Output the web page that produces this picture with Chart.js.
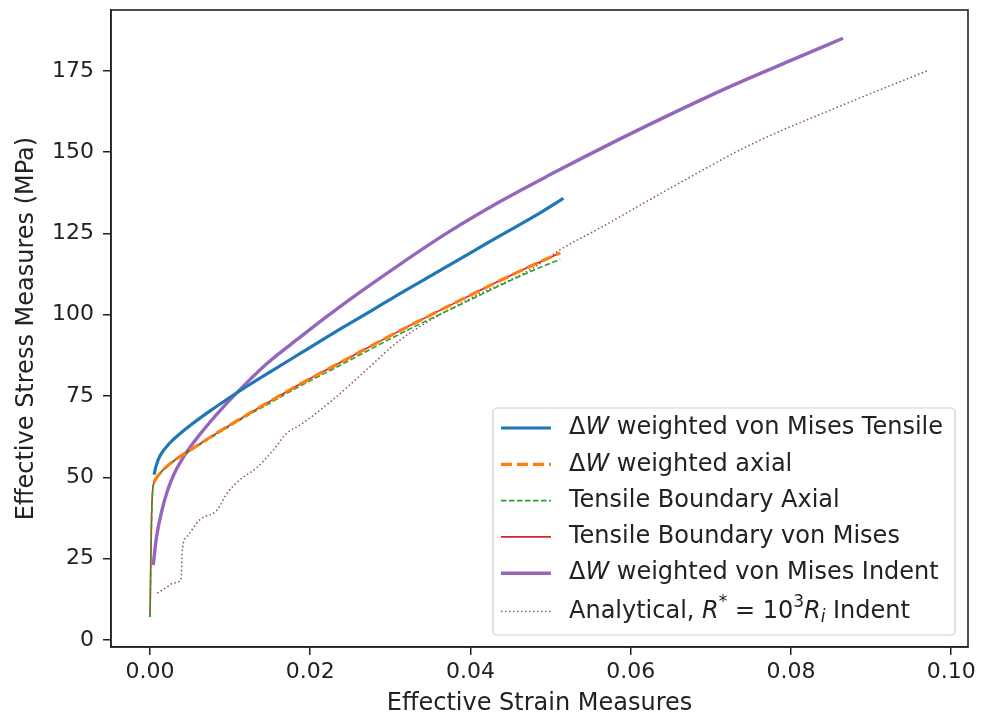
<!DOCTYPE html>
<html>
<head>
<meta charset="utf-8">
<script src="https://cdn.jsdelivr.net/npm/chart.js@4.4.0/dist/chart.umd.min.js"></script>
<style>
  html, body { margin: 0; padding: 0; background: #fff; }
  #wrap { width: 989px; height: 718px; position: relative; }
</style>
</head>
<body>
<div id="wrap"><canvas id="c" width="989" height="718"></canvas></div>
<script>
// ticks
const xTicks = [0.00, 0.02, 0.04, 0.06, 0.08, 0.10];
const yTicks = [0, 25, 50, 75, 100, 125, 150, 175];

// ΔW weighted von Mises Tensile
const tensileVmX = [0.0005, 0.0008, 0.00125, 0.0025, 0.0037, 0.005, 0.0075, 0.01, 0.0125, 0.015, 0.0187, 0.023, 0.0275, 0.0312, 0.036, 0.04, 0.0437, 0.048, 0.0516];
const tensileVmY = [50.8, 53.8, 56.6, 60.6, 63.3, 65.9, 70.4, 74.6, 78.6, 82.4, 88, 94.5, 101, 106.5, 113.3, 119, 124.3, 130.3, 135.8];

// ΔW weighted axial
const axialX = [0.0005, 0.001, 0.0025, 0.005, 0.0075, 0.01, 0.0125, 0.015, 0.0187, 0.023, 0.027, 0.0312, 0.036, 0.04, 0.0437, 0.048, 0.0512];
const axialY = [48.6, 50.5, 54.2, 58.3, 62.3, 66.1, 69.8, 73.4, 78.6, 84.3, 89.6, 95.1, 101.1, 106, 110.5, 115.5, 119];

// Tensile Boundary Axial
const boundAxX = [0, 0.00005, 0.0001, 0.0002, 0.0003, 0.0005, 0.001, 0.0025, 0.005, 0.0075, 0.01, 0.0125, 0.015, 0.0187, 0.023, 0.027, 0.0312, 0.036, 0.04, 0.0437, 0.048, 0.0512];
const boundAxY = [7, 15, 25, 38, 45, 48.3, 50.3, 54, 58.1, 62, 65.8, 69.4, 72.9, 78, 83.5, 88.7, 94.1, 99.9, 104.6, 109, 113.8, 117];

// Tensile Boundary von Mises
const boundVmX = [0, 0.00005, 0.0001, 0.0002, 0.0003, 0.0005, 0.001, 0.0025, 0.005, 0.0075, 0.01, 0.0125, 0.015, 0.0187, 0.023, 0.027, 0.0312, 0.036, 0.04, 0.0437, 0.048, 0.0512];
const boundVmY = [7, 15, 25, 38, 45, 48.4, 50.5, 54.2, 58.3, 62.3, 66.1, 69.8, 73.4, 78.6, 84.3, 89.6, 95.1, 101.1, 106, 110.5, 115.5, 119];

// ΔW weighted von Mises Indent
const indentX = [0.0004, 0.0008, 0.0015, 0.0022, 0.003, 0.004, 0.005, 0.006, 0.0075, 0.009, 0.0106, 0.0125, 0.0146, 0.0187, 0.022, 0.025, 0.0312, 0.037, 0.0437, 0.0499, 0.0583, 0.0658, 0.0728, 0.08, 0.0865];
const indentY = [23, 31.5, 40, 46, 51, 55.5, 59.2, 62.5, 67, 71.2, 75.4, 80.1, 85, 93, 99.3, 104.8, 115.5, 125, 134.8, 143, 153.6, 162.6, 170.6, 178.2, 185];

// Analytical, R* = 10^3 Ri Indent
const analytX = [0.0009, 0.002, 0.003, 0.0039, 0.004, 0.0046, 0.0062, 0.0084, 0.0096, 0.0112, 0.0133, 0.0154, 0.0171, 0.0187, 0.0228, 0.027, 0.0312, 0.0396, 0.0478, 0.0512, 0.0562, 0.065, 0.0749, 0.085, 0.097];
const analytY = [14.4, 16, 17.5, 18.8, 27, 31.7, 36.9, 40, 45, 49.2, 52.9, 58.4, 63.6, 66, 73.8, 83, 92.2, 104.5, 114.3, 120, 126.7, 139, 152.2, 163, 175];

const pts = (xs, ys) => xs.map((x, i) => ({ x, y: ys[i] }));

const FONT = '"DejaVu Sans", sans-serif';
const INK = '#222';

const series = [
  { label: 'tensileVm', data: pts(tensileVmX, tensileVmY), borderColor: '#1f77b4', borderWidth: 3.2, borderDash: [] },
  { label: 'axial', data: pts(axialX, axialY), borderColor: '#ff7f0e', borderWidth: 3.2, borderDash: [11, 5] },
  { label: 'boundAx', data: pts(boundAxX, boundAxY), borderColor: '#2ca02c', borderWidth: 1.6, borderDash: [5.5, 2.5] },
  { label: 'boundVm', data: pts(boundVmX, boundVmY), borderColor: '#d62728', borderWidth: 1.6, borderDash: [] },
  { label: 'indent', data: pts(indentX, indentY), borderColor: '#9467bd', borderWidth: 3.4, borderDash: [] },
  { label: 'analyt', data: pts(analytX, analytY), borderColor: '#8c564b', borderWidth: 1.5, borderDash: [1.5, 2.5] },
];

// legend entries: text runs as [text, style] with style n=normal, i=italic, sup, subi
const legendRows = [
  { i: 0, runs: [['Δ', 'n'], ['W', 'i'], [' weighted von Mises Tensile', 'n']] },
  { i: 1, runs: [['Δ', 'n'], ['W', 'i'], [' weighted axial', 'n']] },
  { i: 2, runs: [['Tensile Boundary Axial', 'n']] },
  { i: 3, runs: [['Tensile Boundary von Mises', 'n']] },
  { i: 4, runs: [['Δ', 'n'], ['W', 'i'], [' weighted von Mises Indent', 'n']] },
  { i: 5, runs: [['Analytical, ', 'n'], ['R', 'i'], ['*', 'sup'], [' = 10', 'n'], ['3', 'sup'], ['R', 'i'], ['i', 'subi'], [' Indent', 'n']] },
];

const frameAndLegend = {
  id: 'frameAndLegend',
  afterDraw(chart) {
    const { ctx, chartArea: a } = chart;
    ctx.save();
    // frame
    ctx.strokeStyle = INK;
    ctx.lineWidth = 1.6;
    ctx.strokeRect(a.left, a.top, a.right - a.left, a.bottom - a.top);

    // legend box
    const bw = 462, bh = 227;
    const bx = a.right - 13 - bw, by = a.bottom - 12 - bh;
    ctx.beginPath();
    ctx.roundRect(bx, by, bw, bh, 4);
    ctx.fillStyle = 'rgba(255,255,255,0.85)';
    ctx.fill();
    ctx.strokeStyle = '#d0d0d0';
    ctx.lineWidth = 1.2;
    ctx.stroke();

    const fs = 24;
    legendRows.forEach((row, r) => {
      const ds = series[row.i];
      const yc = by + 20 + r * 36.3 + (r === 5 ? 2 : 0);
      ctx.beginPath();
      ctx.setLineDash(ds.borderDash);
      ctx.strokeStyle = ds.borderColor;
      ctx.lineWidth = ds.borderWidth;
      ctx.moveTo(bx + 8, yc);
      ctx.lineTo(bx + 58, yc);
      ctx.stroke();
      ctx.setLineDash([]);

      let tx = bx + 76;
      ctx.fillStyle = INK;
      ctx.textBaseline = 'middle';
      ctx.textAlign = 'left';
      row.runs.forEach(([t, s]) => {
        let f = fs + 'px ' + FONT, dy = 0;
        if (s === 'i') f = 'italic ' + fs + 'px ' + FONT;
        if (s === 'sup') { f = Math.round(fs * 0.7) + 'px ' + FONT; dy = -9; }
        if (s === 'subi') { f = 'italic ' + Math.round(fs * 0.7) + 'px ' + FONT; dy = 6; }
        ctx.font = f;
        ctx.fillText(t, tx, yc + dy);
        tx += ctx.measureText(t).width;
      });
    });
    ctx.restore();
  }
};

new Chart(document.getElementById('c'), {
  type: 'line',
  data: {
    datasets: series.map(s => ({
      ...s,
      pointRadius: 0,
      fill: false,
      cubicInterpolationMode: 'monotone',
      borderCapStyle: 'butt',
    })),
  },
  options: {
    responsive: false,
    animation: false,
    layout: { padding: { left: 0, right: 21, top: 10, bottom: 0 } },
    plugins: { legend: { display: false }, tooltip: { enabled: false } },
    scales: {
      x: {
        type: 'linear',
        min: -0.00487,
        max: 0.1021,
        afterBuildTicks: s => { s.ticks = xTicks.map(v => ({ value: v })); },
        afterFit: s => { s.height = 71; s.paddingLeft = 0; s.paddingRight = 0; },
        ticks: { color: INK, font: { family: FONT, size: 22 }, padding: 4, maxRotation: 0, callback: v => v.toFixed(2) },
        grid: { drawOnChartArea: false, drawTicks: true, tickLength: 8, color: INK, lineWidth: 1.5 },
        border: { display: true, color: INK, width: 1.6 },
        title: { display: true, text: 'Effective Strain Measures', color: INK, font: { family: FONT, size: 24 }, padding: { top: 0, bottom: 0 } },
      },
      y: {
        type: 'linear',
        min: -2.2,
        max: 193.7,
        afterBuildTicks: s => { s.ticks = yTicks.map(v => ({ value: v })); },
        afterFit: s => { s.width = 111; s.paddingTop = 0; s.paddingBottom = 0; },
        ticks: { color: INK, font: { family: FONT, size: 22 }, padding: 9, callback: v => String(v) },
        grid: { drawOnChartArea: false, drawTicks: true, tickLength: 8, color: INK, lineWidth: 1.5 },
        border: { display: true, color: INK, width: 1.6 },
        title: { display: true, text: 'Effective Stress Measures (MPa)', color: INK, font: { family: FONT, size: 24 }, padding: { top: 12, bottom: 0 } },
      },
    },
  },
  plugins: [frameAndLegend],
});
</script>
</body>
</html>
